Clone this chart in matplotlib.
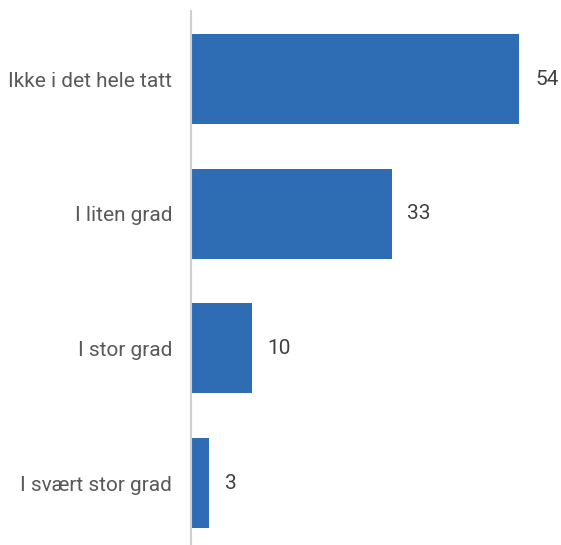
import matplotlib.pyplot as plt

categories = ["I svært stor grad", "I stor grad", "I liten grad", "Ikke i det hele tatt"]
values = [3, 10, 33, 54]

plt.rcParams['font.family'] = ['Roboto', 'DejaVu Sans']

fig = plt.figure(figsize=(5.61, 5.45), dpi=100)
ax = fig.add_axes([191 / 561, 0, 364 / 561, 534 / 545])

y = range(len(categories))
ax.barh(y, values, height=0.668, color="#2E6DB4")

for yi, v in zip(y, values):
    ax.text(v + 2.6, yi, str(v), va="center", ha="left", fontsize=15, color="#404040")

ax.set_xlim(0, 364 / 6.08)
ax.set_ylim(-0.46, 3.505)
ax.set_yticks(list(y))
ax.set_yticklabels(categories, fontsize=15, color="#595959")
ax.tick_params(axis="y", length=0, pad=13.5)
ax.set_xticks([])
for s in ["top", "right", "bottom"]:
    ax.spines[s].set_visible(False)
ax.spines["left"].set_color("#D0D0D0")
ax.spines["left"].set_linewidth(1.5)

fig.savefig("out.png", dpi=100)
